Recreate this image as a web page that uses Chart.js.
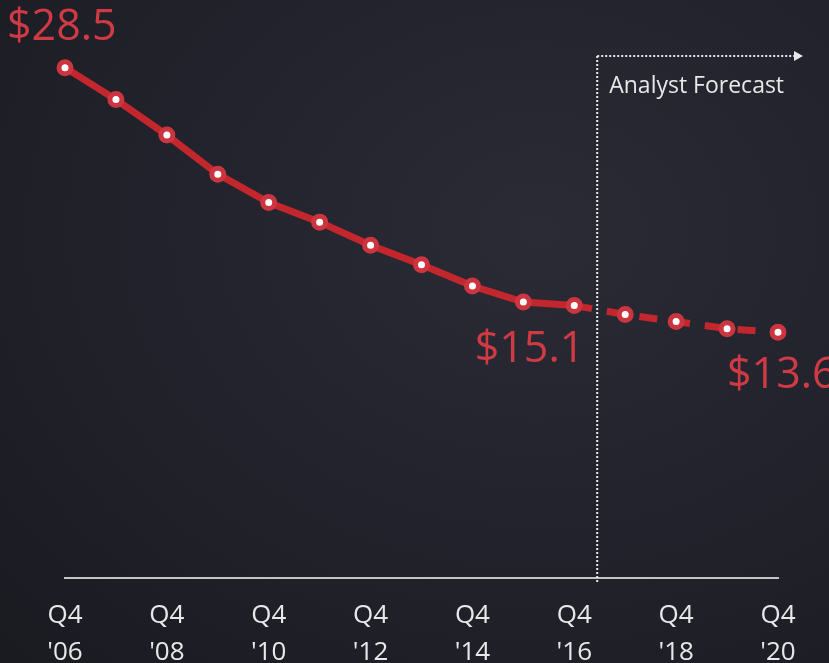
<!DOCTYPE html>
<html>
<head>
<meta charset="utf-8">
<script src="https://cdn.jsdelivr.net/npm/chart.js@4.4.1/dist/chart.umd.min.js"></script>
<style>
  html, body { margin: 0; padding: 0; overflow: hidden; }
  body { width: 829px; height: 663px;
    background: radial-gradient(ellipse at 65% 35%, #2a2b35 0%, #22232c 45%, #1a1b21 100%); }
  #wrap { position: absolute; left: 0; top: 0; width: 829px; height: 690px; }
</style>
</head>
<body>
<div id="wrap"><canvas id="c"></canvas></div>
<script>
// ---- data ----
const categories = ["Q4 '06","Q4 '07","Q4 '08","Q4 '09","Q4 '10","Q4 '11","Q4 '12","Q4 '13",
                    "Q4 '14","Q4 '15","Q4 '16","Q4 '17","Q4 '18","Q4 '19","Q4 '20"];
const tickLabels = [["Q4","'06"],"",["Q4","'08"],"",["Q4","'10"],"",["Q4","'12"],"",
                    ["Q4","'14"],"",["Q4","'16"],"",["Q4","'18"],"",["Q4","'20"]];
const values = [28.5, 26.7, 24.7, 22.5, 20.9, 19.8, 18.5, 17.4, 16.2, 15.3, 15.1, 14.6, 14.2, 13.8, 13.6];
const lastActualIndex = 10;      // Q4 '16 — forecast starts after this
const forecastLabel = "Analyst Forecast";
const calloutIndexes = [0, 10, 14];

const RED = '#c3262d';
const LABEL_RED = '#cf3a45';

const overlay = {
  id: 'overlay',
  afterDatasetsDraw(chart) {
    const ctx = chart.ctx;
    const xs = chart.scales.x;
    const meta = chart.getDatasetMeta(0);
    const area = chart.chartArea;
    // forecast divider
    const step = xs.getPixelForValue(1) - xs.getPixelForValue(0);
    const fx = xs.getPixelForValue(lastActualIndex) + step * 0.45;
    const topY = 56;
    ctx.save();
    ctx.strokeStyle = '#e8e8e8';
    ctx.lineWidth = 2;
    ctx.setLineDash([2, 2]);
    ctx.beginPath();
    ctx.moveTo(fx, topY);
    ctx.lineTo(fx, area.bottom + 5);
    ctx.moveTo(fx, topY);
    ctx.lineTo(795, topY);
    ctx.stroke();
    ctx.setLineDash([]);
    ctx.fillStyle = '#e8e8e8';
    ctx.beginPath();
    ctx.moveTo(794, topY - 5);
    ctx.lineTo(803, topY);
    ctx.lineTo(794, topY + 5);
    ctx.closePath();
    ctx.fill();
    ctx.font = '23px "Open Sans"';
    ctx.textBaseline = 'alphabetic';
    ctx.textAlign = 'left';
    ctx.fillText(forecastLabel, fx + 12, 93);

    // callout values
    ctx.fillStyle = LABEL_RED;
    ctx.font = '43px "Open Sans"';
    ctx.textBaseline = 'middle';
    calloutIndexes.forEach(i => {
      const p = meta.data[i];
      const txt = '$' + values[i].toFixed(1);
      if (i === 0) { ctx.textAlign = 'left'; ctx.fillText(txt, p.x - 58, p.y - 40); }
      else if (i === lastActualIndex) { ctx.textAlign = 'right'; ctx.fillText(txt, p.x + 10, p.y + 44); }
      else { ctx.textAlign = 'left'; ctx.fillText(txt, p.x - 51, p.y + 44); }
    });
    ctx.restore();
  }
};

new Chart(document.getElementById('c'), {
  type: 'line',
  data: {
    labels: categories,
    datasets: [{
      data: values,
      borderColor: RED,
      borderWidth: 7,
      tension: 0,
      pointRadius: 6,
      pointBorderWidth: 5,
      pointBackgroundColor: '#ffffff',
      pointBorderColor: '#cc3540',
      segment: {
        borderDash: c => c.p0DataIndex >= lastActualIndex ? [18, 15] : undefined
      }
    }]
  },
  options: {
    responsive: true,
    maintainAspectRatio: false,
    animation: false,
    layout: { padding: { left: 65, right: 51, top: 41, bottom: 0 } },
    plugins: { legend: { display: false }, tooltip: { enabled: false } },
    scales: {
      x: {
        grid: { display: false, drawTicks: false },
        border: { display: true, color: '#c4c4c4', width: 2 },
        ticks: {
          autoSkip: false, maxRotation: 0, padding: 19,
          color: '#e8e8e8',
          font: { family: '"Open Sans"', size: 26, lineHeight: 1.42 },
          callback: (v, i) => tickLabels[i]
        }
      },
      y: { display: false, min: -0.25, max: 30 }
    }
  },
  plugins: [overlay]
});
</script>
</body>
</html>
